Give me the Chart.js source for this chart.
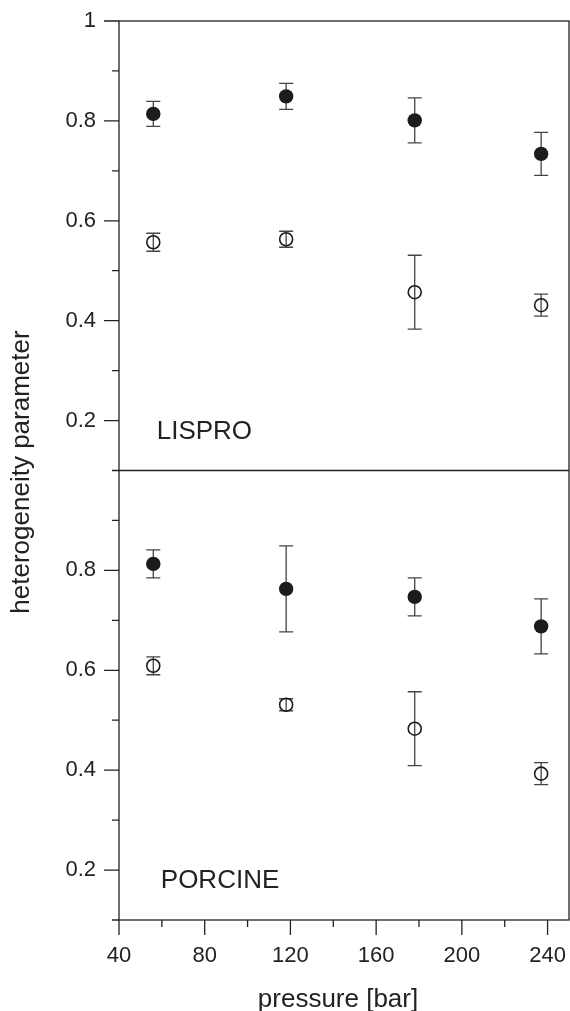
<!DOCTYPE html>
<html>
<head>
<meta charset="utf-8">
<script src="https://cdn.jsdelivr.net/npm/chart.js@4/dist/chart.umd.min.js"></script>
<style>
  html, body { margin: 0; padding: 0; background: #fff; }
  #wrap { width: 570px; height: 1011px; }
</style>
</head>
<body>
<div id="wrap"><canvas id="chart" width="570" height="1011"></canvas></div>
<script>
// data
const pressure = [56, 118, 178, 237];

const lisproFilled = [0.814, 0.849, 0.801, 0.734];
const lisproFilledErr = [0.025, 0.026, 0.045, 0.043];
const lisproOpen = [0.557, 0.563, 0.457, 0.431];
const lisproOpenErr = [0.018, 0.016, 0.074, 0.022];

const porcineFilled = [0.813, 0.763, 0.747, 0.688];
const porcineFilledErr = [0.028, 0.086, 0.038, 0.055];
const porcineOpen = [0.609, 0.531, 0.483, 0.393];
const porcineOpenErr = [0.018, 0.012, 0.074, 0.022];

const xTickLabels = [40, 80, 120, 160, 200, 240];
const yTopTickLabels = [0.2, 0.4, 0.6, 0.8, 1];
const yBottomTickLabels = [0.2, 0.4, 0.6, 0.8];

const INK = '#222';
const FONT = '"Liberation Sans", Arial, sans-serif';

const toPoints = (ys) => pressure.map((x, i) => ({ x: x, y: ys[i] }));
const r1 = (v) => Math.round(v * 10) / 10;

function yTicks(scale) {
    const ticks = [];
    for (let i = 1; i <= 10; i++) ticks.push({ value: i / 10 });
    scale.ticks = ticks;
}

// no extra room for label overhang, the layout is fixed
function noPadding(scale) {
    scale.paddingTop = 0;
    scale.paddingBottom = 0;
    scale.paddingLeft = 0;
    scale.paddingRight = 0;
}

function makeDataset(ys, errs, axis, filled) {
    return {
        data: toPoints(ys),
        errors: errs,
        yAxisID: axis,
        showLine: false,
        pointStyle: 'circle',
        pointRadius: filled ? 7.2 : 6.5,
        pointBorderWidth: filled ? 0 : 1.6,
        pointBackgroundColor: filled ? '#1c1c1c' : 'rgba(0,0,0,0)',
        pointBorderColor: '#1c1c1c'
    };
}

// error bars, drawn under the markers
const errorBars = {
    id: 'errorBars',
    beforeDatasetsDraw(chart) {
        const ctx = chart.ctx;
        const xs = chart.scales.x;
        ctx.save();
        ctx.strokeStyle = '#444';
        ctx.lineWidth = 1.3;
        chart.data.datasets.forEach(ds => {
            const ys = chart.scales[ds.yAxisID];
            ds.data.forEach((p, i) => {
                const e = ds.errors[i];
                const px = xs.getPixelForValue(p.x);
                const top = ys.getPixelForValue(p.y + e);
                const bot = ys.getPixelForValue(p.y - e);
                ctx.beginPath();
                ctx.moveTo(px, top); ctx.lineTo(px, bot);
                ctx.moveTo(px - 7, top); ctx.lineTo(px + 7, top);
                ctx.moveTo(px - 7, bot); ctx.lineTo(px + 7, bot);
                ctx.stroke();
            });
        });
        ctx.restore();
    }
};

// frame, tick marks and texts
const frame = {
    id: 'frame',
    afterDraw(chart) {
        const ctx = chart.ctx;
        const a = chart.chartArea;
        const xs = chart.scales.x;
        const yt = chart.scales.yTop;
        const yb = chart.scales.yBottom;
        ctx.save();
        ctx.strokeStyle = INK;
        ctx.lineWidth = 1.3;
        ctx.strokeRect(a.left, a.top, a.right - a.left, a.bottom - a.top);

        ctx.beginPath();
        ctx.moveTo(a.left - 7, yt.bottom);
        ctx.lineTo(a.right, yt.bottom);

        [[yt, yTopTickLabels], [yb, yBottomTickLabels]].forEach(([s, labels]) => {
            s.ticks.forEach(t => {
                const v = r1(t.value);
                if (s === yb && v === 1) return;
                const len = labels.includes(v) ? 15 : 7;
                const py = s.getPixelForValue(t.value);
                ctx.moveTo(a.left - len, py);
                ctx.lineTo(a.left, py);
            });
        });
        xs.ticks.forEach(t => {
            const len = xTickLabels.includes(t.value) ? 15 : 7;
            const px = xs.getPixelForValue(t.value);
            ctx.moveTo(px, a.bottom);
            ctx.lineTo(px, a.bottom + len);
        });
        ctx.stroke();

        ctx.fillStyle = INK;
        ctx.font = '26px ' + FONT;
        ctx.textBaseline = 'alphabetic';
        ctx.textAlign = 'left';
        ctx.fillText('LISPRO', xs.getPixelForValue(57.6), yt.getPixelForValue(0.164));
        ctx.fillText('PORCINE', xs.getPixelForValue(59.5), yb.getPixelForValue(0.164));

        ctx.textAlign = 'center';
        ctx.fillText('pressure [bar]', 338, 1007);

        ctx.translate(22, 472);
        ctx.rotate(-Math.PI / 2);
        ctx.textBaseline = 'middle';
        ctx.fillText('heterogeneity parameter', 0, 0);
        ctx.restore();
    }
};

const yCommon = {
    type: 'linear',
    position: 'left',
    stack: 'panels',
    stackWeight: 1,
    min: 0.1,
    max: 1.0,
    afterBuildTicks: yTicks,
    afterFit(scale) { scale.width = 119; noPadding(scale); },
    grid: { display: false, drawTicks: false },
    border: { display: false },
    ticks: {
        autoSkip: false,
        padding: 23,
        color: INK,
        font: { family: FONT, size: 22 }
    }
};

new Chart(document.getElementById('chart'), {
    type: 'scatter',
    data: {
        datasets: [
            makeDataset(lisproFilled, lisproFilledErr, 'yTop', true),
            makeDataset(lisproOpen, lisproOpenErr, 'yTop', false),
            makeDataset(porcineFilled, porcineFilledErr, 'yBottom', true),
            makeDataset(porcineOpen, porcineOpenErr, 'yBottom', false)
        ]
    },
    options: {
        responsive: false,
        animation: false,
        devicePixelRatio: 1,
        layout: { autoPadding: false, padding: { top: 21, right: 1, left: 0, bottom: 0 } },
        plugins: { legend: { display: false }, tooltip: { enabled: false } },
        scales: {
            x: {
                type: 'linear',
                position: 'bottom',
                min: 40,
                max: 250,
                afterBuildTicks(scale) {
                    const ticks = [];
                    for (let v = 40; v <= 240; v += 20) ticks.push({ value: v });
                    scale.ticks = ticks;
                },
                afterFit(scale) { scale.height = 91; noPadding(scale); },
                grid: { display: false, drawTicks: false },
                border: { display: false },
                ticks: {
                    autoSkip: false,
                    maxRotation: 0,
                    padding: 23,
                    color: INK,
                    font: { family: FONT, size: 22 },
                    callback: (v) => xTickLabels.includes(v) ? String(v) : ''
                }
            },
            yTop: Object.assign({}, yCommon, {
                weight: 2,
                ticks: Object.assign({}, yCommon.ticks, {
                    callback: (v) => yTopTickLabels.includes(r1(v)) ? String(r1(v)) : ''
                })
            }),
            yBottom: Object.assign({}, yCommon, {
                weight: 1,
                ticks: Object.assign({}, yCommon.ticks, {
                    callback: (v) => yBottomTickLabels.includes(r1(v)) ? String(r1(v)) : ''
                })
            })
        }
    },
    plugins: [errorBars, frame]
});
</script>
</body>
</html>
